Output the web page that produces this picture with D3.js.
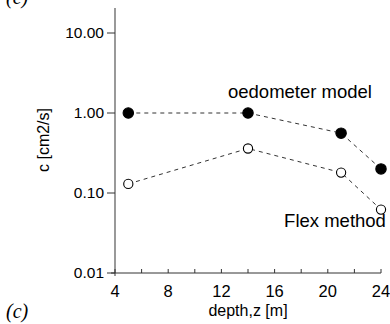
<!DOCTYPE html>
<html>
<head>
<meta charset="utf-8">
<script src="https://cdn.jsdelivr.net/npm/d3@7"></script>
<style>
  body { margin: 0; background: #fff; }
  svg { display: block; font-family: "Liberation Sans", Arial, sans-serif; }
</style>
</head>
<body>
<div id="chart"></div>
<script>
const depth = [5, 14, 21, 24]
const oedometer = [1.0, 1.0, 0.56, 0.2]
const flex = [0.13, 0.36, 0.18, 0.062]

const xTicks = [4, 8, 12, 16, 20, 24]
const xMinor = [6, 10, 14, 18, 22]
const yTicks = [0.01, 0.1, 1, 10]

const size = [390, 324]

const svg = d3.create("svg")
  .attr("width", size[0])
  .attr("height", size[1])

const x = d3.scaleLinear()
  .domain([4, 24])
  .range([115, 381])

// 80px per decade, axis line runs a bit above 10
const y = d3.scaleLog()
  .domain([0.01, Math.pow(10, 1 + 25 / 80)])
  .range([273, 8])

// y axis (grey line, dark ticks outside)
svg.append("line")
  .attr("x1", x(4)).attr("x2", x(4))
  .attr("y1", y.range()[1]).attr("y2", y(0.01) + 3)
  .attr("stroke", "#808080").attr("stroke-width", 1.6)

const yG = svg.append("g")
yG.selectAll("line")
  .data(yTicks)
  .join("line")
    .attr("x1", x(4) - 8).attr("x2", x(4))
    .attr("y1", d => y(d)).attr("y2", d => y(d))
    .attr("stroke", "#333")
yG.selectAll("text")
  .data(yTicks)
  .join("text")
    .attr("x", x(4) - 11)
    .attr("y", d => y(d))
    .attr("dy", "0.35em")
    .attr("text-anchor", "end")
    .attr("font-size", 15.5)
    .text(d3.format(".2f"))

// x axis (ticks pointing up)
svg.append("line")
  .attr("x1", x(4) - 4).attr("x2", x(24))
  .attr("y1", y(0.01)).attr("y2", y(0.01))
  .attr("stroke", "#333")
svg.append("g")
  .selectAll("line")
  .data(xTicks.concat(xMinor))
  .join("line")
    .attr("x1", d => x(d)).attr("x2", d => x(d))
    .attr("y1", y(0.01)).attr("y2", y(0.01) - 4)
    .attr("stroke", "#333")
svg.append("g")
  .selectAll("text")
  .data(xTicks)
  .join("text")
    .attr("x", d => x(d))
    .attr("y", 297)
    .attr("text-anchor", "middle")
    .attr("font-size", 16.5)
    .text(d => d)

svg.append("text")
  .attr("x", 248).attr("y", 316)
  .attr("text-anchor", "middle")
  .attr("font-size", 16)
  .text("depth,z [m]")

svg.append("text")
  .attr("transform", "translate(49,140) rotate(-90)")
  .attr("text-anchor", "middle")
  .attr("font-size", 16)
  .text("c [cm2/s]")

const line = d3.line()
  .x((d, i) => x(depth[i]))
  .y(d => y(d))

for (const [series, fill] of [[oedometer, "#000"], [flex, "#fff"]]) {
  svg.append("path")
    .attr("d", line(series))
    .attr("fill", "none")
    .attr("stroke", "#333")
    .attr("stroke-width", 1)
    .attr("stroke-dasharray", "4,4")
  svg.append("g")
    .selectAll("circle")
    .data(series)
    .join("circle")
      .attr("cx", (d, i) => x(depth[i]))
      .attr("cy", d => y(d))
      .attr("r", fill == "#000" ? 5.2 : 4.6)
      .attr("fill", fill)
      .attr("stroke", "#000")
      .attr("stroke-width", 1.1)
}

svg.append("text")
  .attr("x", 300).attr("y", 98)
  .attr("text-anchor", "middle")
  .attr("font-size", 18.5)
  .text("oedometer model")

svg.append("text")
  .attr("x", 335).attr("y", 227)
  .attr("text-anchor", "middle")
  .attr("font-size", 18.5)
  .text("Flex method")

for (const yy of [4, 318]) {
  svg.append("text")
    .attr("x", 6).attr("y", yy)
    .attr("font-family", "'Liberation Serif', serif")
    .attr("font-style", "italic")
    .attr("font-size", 20)
    .text("(c)")
}

d3.select("#chart").append(() => svg.node())
</script>
</body>
</html>
